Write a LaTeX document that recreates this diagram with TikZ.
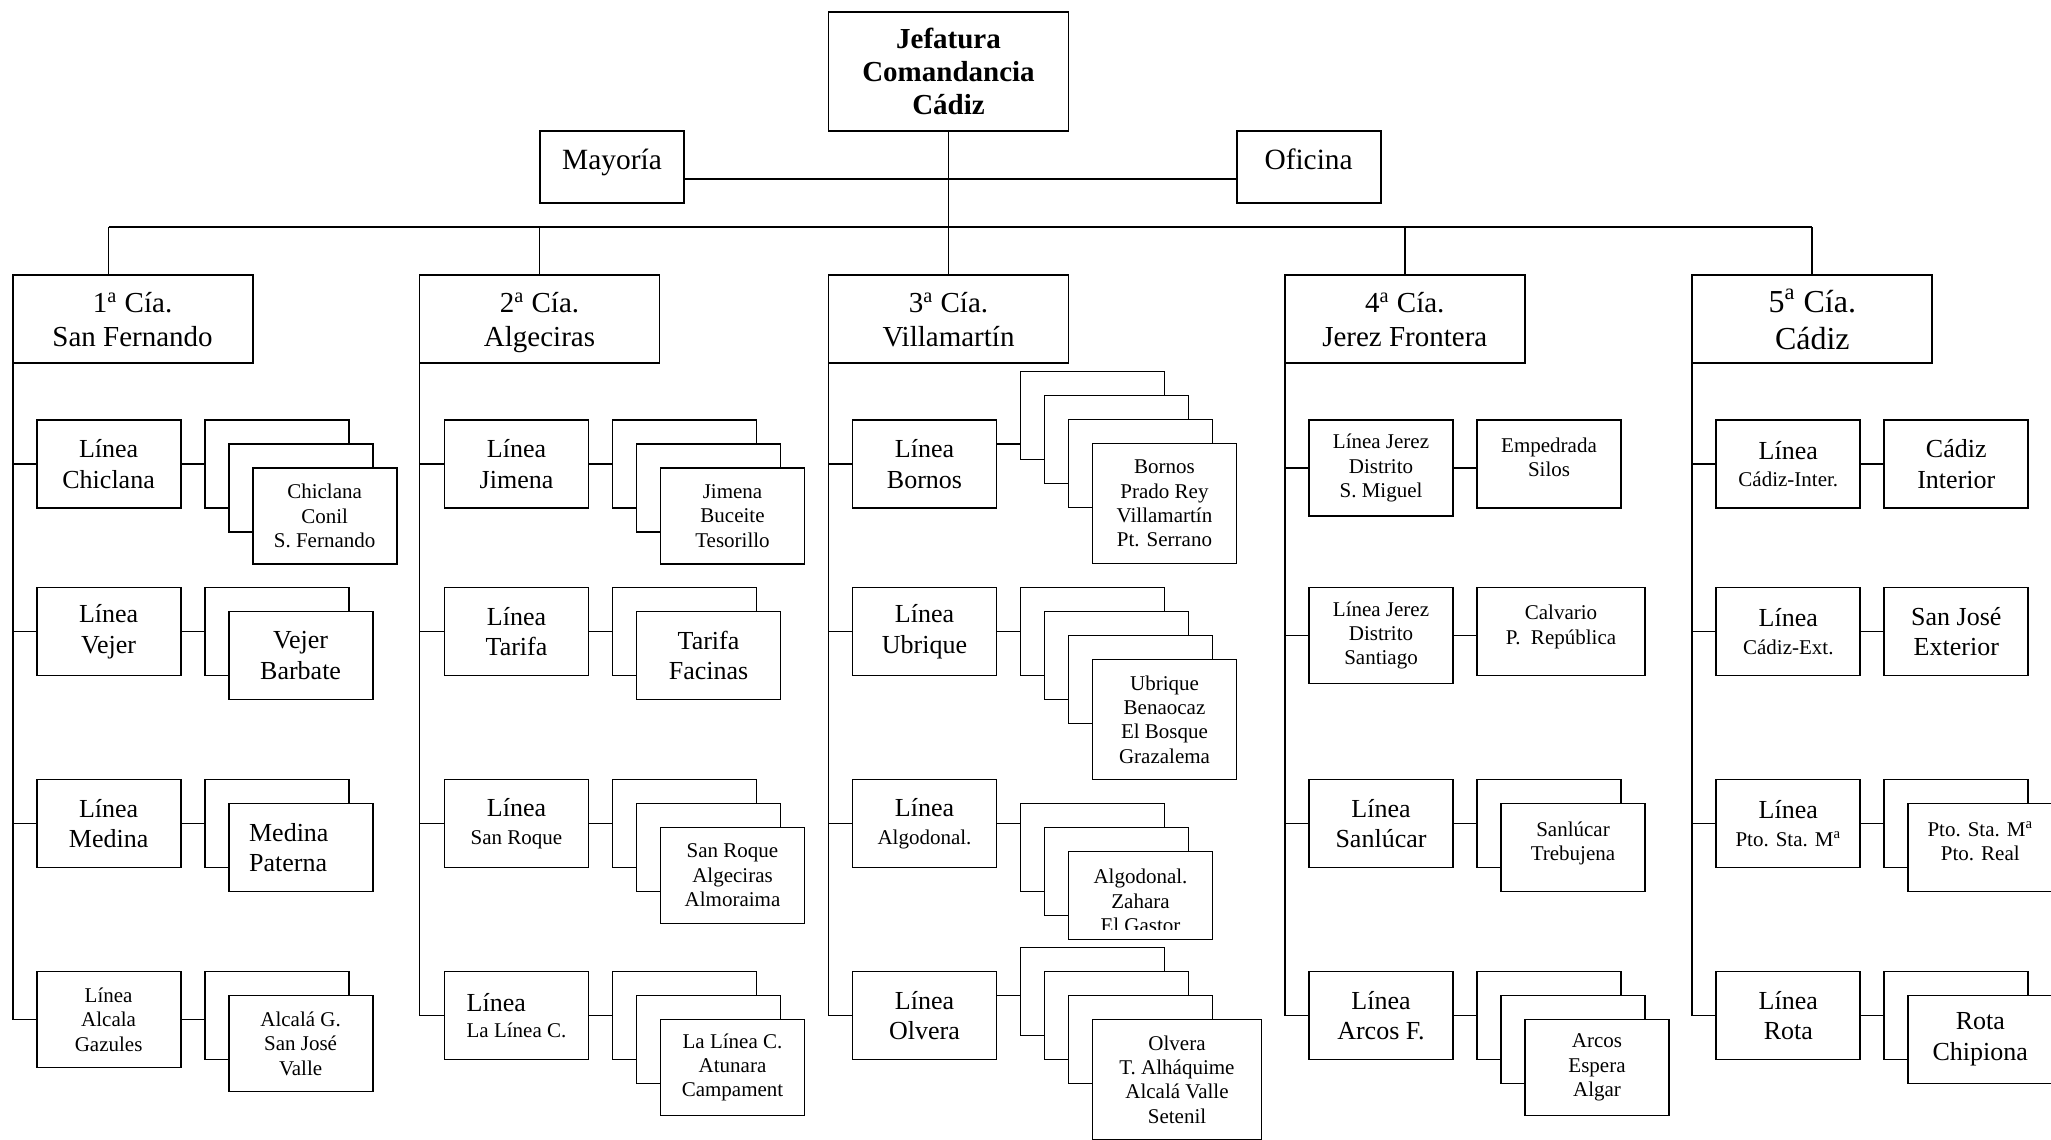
\documentclass[tikz,border=0pt]{standalone}
\usepackage{fontspec}
\setmainfont{Liberation Serif}
\usepackage{tikz}
\usetikzlibrary{calc}

\newcommand{\lbig}{\fontsize{13}{15.3}\selectfont}
\newcommand{\lsmall}{\fontsize{10.5}{12.2}\selectfont}
\newcommand{\lcia}{\fontsize{14.5}{16.7}\selectfont}
\newcommand{\lhead}{\fontsize{16}{18.4}\selectfont}

\begin{document}
\begin{tikzpicture}[x=0.5pt, y=-0.5pt, line width=0.9pt,
    box/.style={draw, fill=white, anchor=north west, align=center, inner sep=0pt, outer sep=0pt,
        minimum width=72pt, minimum height=44pt, font=\lbig},
    tall/.style={minimum height=48pt, font=\lsmall},
    four/.style={minimum height=60pt, font=\lsmall},
    cia/.style={box, minimum width=120pt, font=\lcia, text depth=0pt},
    toptext/.style={anchor=north, align=center, inner sep=0pt, font=\lsmall}]

    \useasboundingbox (0,0) rectangle (2051,1140);
    \fill[white] (0,0) rectangle (2051,1140);
    \clip (0,0) rectangle (2051,1140);

    % Jefatura
    \node[box, minimum width=120pt, minimum height=59.7pt, font=\lcia\bfseries] (jefatura) at (828.5,11.7) {Jefatura\\Comandancia\\Cádiz};
    \node[box, minimum height=36pt, font=\fontsize{14.7}{17}\selectfont, text height=10pt, text depth=8pt] (mayoria) at (540,131) {Mayoría};
    \node[box, minimum height=36pt, font=\fontsize{14.7}{17}\selectfont, text height=10pt, text depth=8pt] (oficina) at (1236.6,131) {Oficina};
    \draw ($(mayoria.east)+(0,12.3)$) -- ($(oficina.west)+(0,12.3)$);

    % Companias
    \node[cia] (cia1) at (12.6,275.3) {1\textsuperscript{a} Cía.\\San Fernando};
    \node[cia] (cia2) at (419.5,275.3) {2\textsuperscript{a} Cía.\\Algeciras};
    \node[cia] (cia3) at (828.5,275.3) {3\textsuperscript{a} Cía.\\Villamartín};
    \node[cia] (cia4) at (1284.8,275.3) {4\textsuperscript{a} Cía.\\Jerez Frontera};
    \node[cia, font=\lhead] (cia5) at (1692.3,275.3) {5\textsuperscript{a} Cía.\\Cádiz};

    \draw (jefatura.south) -- (cia3.north);
    \coordinate (bus) at (108.5,227.3);
    \draw (bus) -- (bus -| cia5.north);
    \draw (bus) -- (bus |- cia1.north);
    \foreach \k in {2,4,5} \draw (bus -| cia\k.north) -- (cia\k.north);

    % 1a Cia.
    \node[box] (l11) at (36.6,420) {Línea\\Chiclana};
    \node[box] (l12) at (36.6,587.5) {Línea\\Vejer};
    \node[box] (l13) at (36.6,779.5) {Línea\\Medina};
    \node[box, tall] (l14) at (36.6,971.5) {Línea\\Alcala\\Gazules};
    \node[box] (s11) at (204.6,420) {};
    \node[box] (s11b) at (228.6,444) {};
    \node[box, tall] (s11c) at (252.6,468) {Chiclana\\Conil\\S. Fernando};
    \node[box] (s12) at (204.6,587.5) {};
    \node[box] (s12b) at (228.6,611.5) {Vejer\\Barbate};
    \node[box] (s13) at (204.6,779.5) {};
    \node[box, align=left, text width=51.5pt, inner xsep=10.25pt] (s13b) at (228.6,803.5) {Medina\\Paterna};
    \node[box] (s14) at (204.6,971.5) {};
    \node[box, tall] (s14b) at (228.6,995.5) {Alcalá G.\\San José\\Valle};

    % 2a Cia.
    \node[box] (l21) at (444.5,420) {Línea\\Jimena};
    \node[box] (l22) at (444.5,587.5) {Línea\\Tarifa};
    \node[box] (l23) at (444.5,779.5) {Línea\\[-1.5pt]{\lsmall San Roque}};
    \node[box, align=left] (l24) at (444.5,971.5) {Línea\\[-2pt]{\lsmall La Línea C.}};
    \node[box] (s21) at (612.5,420) {};
    \node[box] (s21b) at (636.5,444) {};
    \node[box, tall] (s21c) at (660.5,468) {Jimena\\Buceite\\Tesorillo};
    \node[box] (s22) at (612.5,587.5) {};
    \node[box] (s22b) at (636.5,611.5) {Tarifa\\Facinas};
    \node[box] (s23) at (612.5,779.5) {};
    \node[box] (s23b) at (636.5,803.5) {};
    \node[box, tall] (s23c) at (660.5,827.5) {San Roque\\Algeciras\\Almoraima};
    \node[box] (s24) at (612.5,971.5) {};
    \node[box] (s24b) at (636.5,995.5) {};
    \node[box, tall] (s24c) at (660.5,1019.5) {La Línea C.\\Atunara\\Campament};

    % 3a Cia.
    \node[box] (l31) at (852.5,420) {Línea\\Bornos};
    \node[box] (l32) at (852.5,587.5) {Línea\\Ubrique};
    \node[box] (l33) at (852.5,779.5) {Línea\\[-1.5pt]{\lsmall Algodonal.}};
    \node[box] (l34) at (852.5,971.5) {Línea\\Olvera};
    \node[box] (s31) at (1020.5,371.5) {};
    \node[box] (s31b) at (1044.5,395.5) {};
    \node[box] (s31c) at (1068.5,419.5) {};
    \node[box, four] (s31d) at (1092.5,443.5) {Bornos\\Prado Rey\\Villamartín\\Pt. Serrano};
    \node[box] (s32) at (1020.5,587.5) {};
    \node[box] (s32b) at (1044.5,611.5) {};
    \node[box] (s32c) at (1068.5,635.5) {};
    \node[box, four] (s32d) at (1092.5,659.5) {Ubrique\\Benaocaz\\El Bosque\\Grazalema};
    \node[box] (s33) at (1020.5,803.5) {};
    \node[box] (s33b) at (1044.5,827.5) {};
    \node[box] (s33c) at (1068.5,851.5) {};
    \begin{scope}
        \clip (s33c.north west) rectangle ($(s33c.south east)+(0,-10)$);
        \node[toptext] (s33t) at ([yshift=-8.5pt]s33c.north) {Algodonal.\\Zahara\\El Gastor};
    \end{scope}
    \node[box] (s34) at (1020.5,947.5) {};
    \node[box] (s34b) at (1044.5,971.5) {};
    \node[box] (s34c) at (1068.5,995.5) {};
    \node[box, four, minimum width=84.5pt] (s34d) at (1092.5,1019.5) {Olvera\\T. Alháquime\\Alcalá Valle\\Setenil};

    % 4a Cia.
    \node[box, tall] (l41) at (1309,420) {Línea Jerez\\Distrito\\S. Miguel};
    \node[box, tall] (l42) at (1309,587.5) {Línea Jerez\\Distrito\\Santiago};
    \node[box] (l43) at (1309,779.5) {Línea\\Sanlúcar};
    \node[box] (l44) at (1309,971.5) {Línea\\Arcos F.};
    \node[box] (s41) at (1477,420) {};
    \node[toptext] (s41t) at ([yshift=-8.5pt]s41.north) {Empedrada\\Silos};
    \node[box, minimum width=84pt] (s42) at (1477,587.5) {};
    \node[toptext] (s42t) at ([yshift=-8.5pt]s42.north) {Calvario\\P.~~República};
    \node[box] (s43) at (1477,779.5) {};
    \node[box] (s43b) at (1501,803.5) {};
    \node[toptext] (s43t) at ([yshift=-8.5pt]s43b.north) {Sanlúcar\\Trebujena};
    \node[box] (s44) at (1477,971.5) {};
    \node[box] (s44b) at (1501,995.5) {};
    \node[box, tall] (s44c) at (1525,1019.5) {Arcos\\Espera\\Algar};

    % 5a Cia.
    \node[box] (l51) at (1716.3,420) {Línea\\[-1.5pt]{\lsmall Cádiz-Inter.}};
    \node[box] (l52) at (1716.3,587.5) {Línea\\[-1.5pt]{\lsmall Cádiz-Ext.}};
    \node[box] (l53) at (1716.3,779.5) {Línea\\[-1.5pt]{\lsmall Pto. Sta. M\textsuperscript{a}}};
    \node[box] (l54) at (1716.3,971.5) {Línea\\Rota};
    \node[box] (s51) at (1884.3,420) {Cádiz\\Interior};
    \node[box] (s52) at (1884.3,587.5) {San José\\Exterior};
    \node[box] (s53) at (1884.3,779.5) {};
    \node[box] (s53b) at (1908.3,803.5) {};
    \node[toptext] (s53t) at ([yshift=-8.5pt]s53b.north) {Pto. Sta. M\textsuperscript{a}\\Pto. Real};
    \node[box] (s54) at (1884.3,971.5) {};
    \node[box] (s54b) at (1908.3,995.5) {Rota\\Chipiona};

    % columnas y ramas
    \foreach \k in {1,...,5} {
        \draw (cia\k.south west) |- (l\k4.west);
        \foreach \r in {1,2,3} \draw (cia\k.south west |- l\k\r.west) -- (l\k\r.west);
    }
    \foreach \k/\r in {1/1,1/2,1/3,1/4,2/1,2/2,2/3,2/4,3/2,3/3,4/1,4/2,4/3,4/4,5/1,5/2,5/3,5/4}
        \draw (l\k\r.east) -- (l\k\r.east -| s\k\r.west);
    \coordinate (k31) at ($(l31.north east)+(0,24)$);
    \draw (k31) -- (k31 -| s31.west);
    \coordinate (k34) at ($(l34.north east)+(0,24)$);
    \draw (k34) -- (k34 -| s34.west);
\end{tikzpicture}
\end{document}
